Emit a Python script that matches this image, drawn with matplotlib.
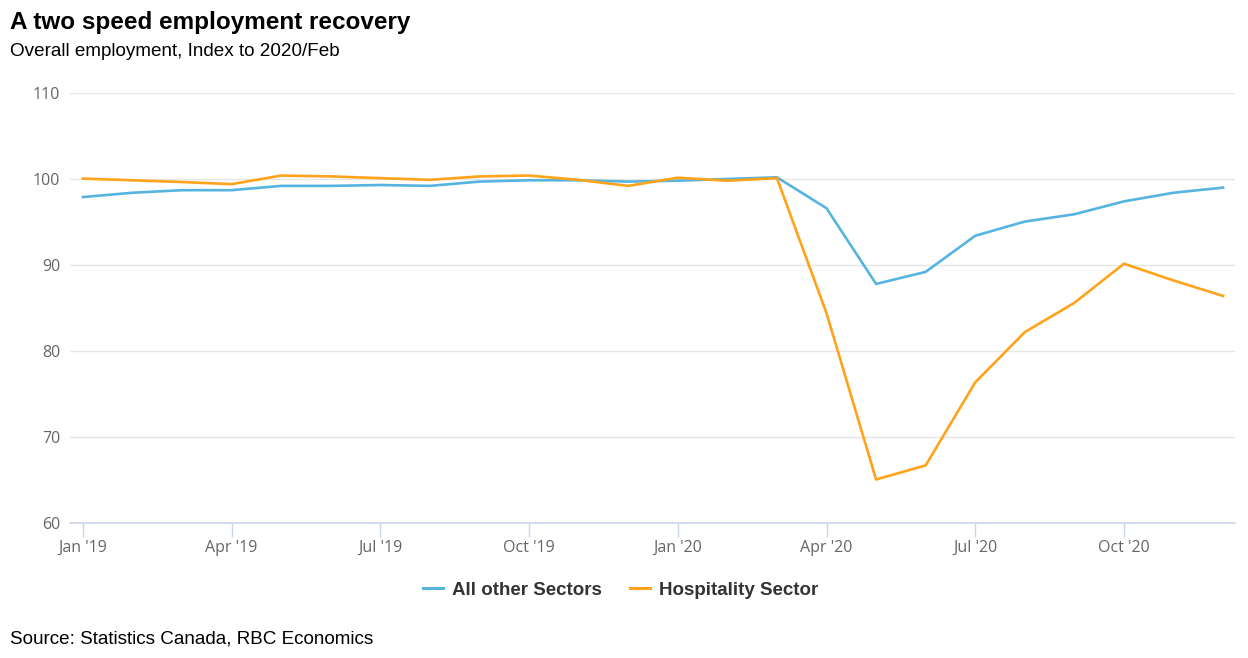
import matplotlib
matplotlib.use("Agg")
import matplotlib.pyplot as plt
from matplotlib.lines import Line2D

months = ["Jan '19", "Feb '19", "Mar '19", "Apr '19", "May '19", "Jun '19",
          "Jul '19", "Aug '19", "Sep '19", "Oct '19", "Nov '19", "Dec '19",
          "Jan '20", "Feb '20", "Mar '20", "Apr '20", "May '20", "Jun '20",
          "Jul '20", "Aug '20", "Sep '20", "Oct '20", "Nov '20", "Dec '20"]
other_sectors = [97.9, 98.4, 98.7, 98.7, 99.2, 99.2, 99.3, 99.2, 99.7, 99.85,
                 99.85, 99.7, 99.8, 100.0, 100.2, 96.6, 87.8, 89.2, 93.4, 95.05,
                 95.9, 97.4, 98.4, 99.0]
hospitality = [100.05, 99.85, 99.65, 99.4, 100.4, 100.3, 100.1, 99.9, 100.3, 100.4,
               99.9, 99.2, 100.15, 99.8, 100.1, 84.4, 65.06, 66.7, 76.35, 82.2,
               85.6, 90.15, 88.2, 86.4]
tick_idx = [0, 3, 6, 9, 12, 15, 18, 21]
y_ticks = [60, 70, 80, 90, 100, 110]

blue = "#56b4e0"
orange = "#ffa31a"

fig = plt.figure(figsize=(12.48, 6.58), dpi=100)
ax = fig.add_axes([70 / 1248, 1 - 523 / 658, (1235 - 70) / 1248, (523 - 93) / 658])

x = list(range(len(months)))
ax.plot(x, other_sectors, color=blue, lw=1.9, solid_joinstyle="round", zorder=3)
ax.plot(x, hospitality, color=orange, lw=1.9, solid_joinstyle="round", zorder=3)

ax.set_xlim(-0.26, 23.24)
ax.set_ylim(60, 110)
ax.set_yticks(y_ticks)
ax.set_yticklabels([str(v) for v in y_ticks])
ax.set_xticks(tick_idx)
ax.set_xticklabels([months[i] for i in tick_idx])

ax.grid(axis="y", color="#e6e6e6", lw=1)
ax.set_axisbelow(True)
for s in ["top", "right", "left"]:
    ax.spines[s].set_visible(False)
ax.spines["bottom"].set_color("#ccd6eb")
ax.spines["bottom"].set_linewidth(1.2)
ax.tick_params(axis="x", colors="#ccd6eb", length=10, width=1, labelcolor="#666666",
               labelsize=11.5, pad=2)
ax.tick_params(axis="y", length=0, labelcolor="#666666", labelsize=11.5, pad=7)
for lab in ax.get_xticklabels() + ax.get_yticklabels():
    lab.set_family("Open Sans")

fig.text(10 / 1248, 1 - 22 / 658, "A two speed employment recovery", fontsize=17.5,
         fontweight="bold", family="Liberation Sans", va="center", ha="left")
fig.text(10 / 1248, 1 - 52 / 658, "Overall employment, Index to 2020/Feb", fontsize=13.6,
         family="Liberation Sans", va="center", ha="left")
fig.text(10 / 1248, 1 - 639 / 658, "Source: Statistics Canada, RBC Economics", fontsize=13.6,
         family="Liberation Sans", va="center", ha="left")

handles = [Line2D([0], [0], color=blue, lw=2.2), Line2D([0], [0], color=orange, lw=2.2)]
leg = fig.legend(handles, ["All other Sectors", "Hospitality Sector"], loc="center",
                 bbox_to_anchor=(621 / 1248, 1 - 590 / 658), ncol=2, frameon=False,
                 handlelength=1.05, handletextpad=0.5, columnspacing=1.5,
                 prop={"family": "Liberation Sans", "weight": "bold", "size": 13.5})
for t in leg.get_texts():
    t.set_color("#333333")

fig.savefig("out.png", dpi=100)
